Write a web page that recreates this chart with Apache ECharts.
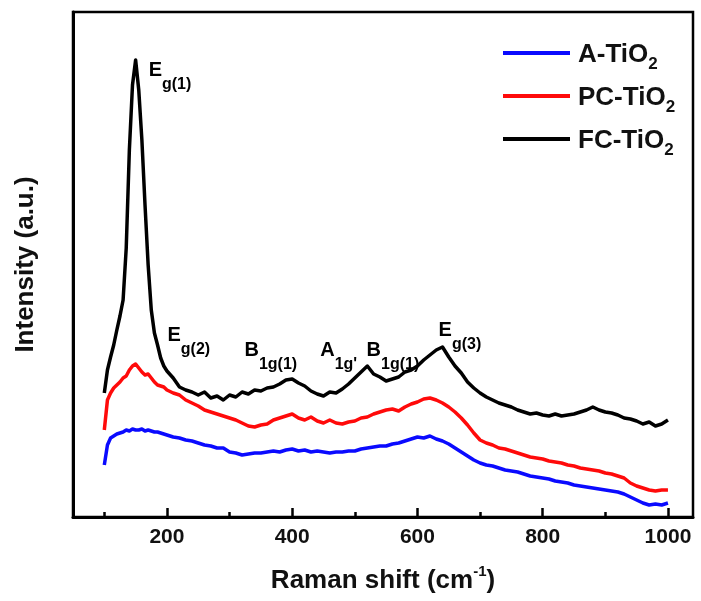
<!DOCTYPE html>
<html>
<head>
<meta charset="utf-8">
<script src="https://cdn.jsdelivr.net/npm/echarts@6/dist/echarts.min.js"></script>
<style>html,body{margin:0;padding:0;background:#fff}#c{width:701px;height:601px}</style>
</head>
<body>
<div id="c"></div>
<script>
// Raman shift (cm-1)
var shift = [100,105,110,115,120,125,130,135,140,145,150,155,160,165,170,175,180,185,190,195,200,
  210,220,230,240,250,260,270,280,290,300,
  310,320,330,340,350,360,370,380,390,400,
  410,420,430,440,450,460,470,480,490,500,
  510,520,530,540,550,560,570,580,590,600,
  610,620,630,640,650,660,670,680,690,700,
  710,720,730,740,750,760,770,780,790,800,
  810,820,830,840,850,860,870,880,890,900,
  910,920,930,940,950,960,970,980,990,1000];
// Intensity (a.u.)
var fcTiO2 = [124,147,160,172,187,201,217,269,367,432,457,427,377,312,252,207,184,172,159,151,146,
  139,130,127,125,122,125,119,121,117,122,
  120,125,123,127,126,129,130,133,137,138,
  134,131,126,123,121,125,124,128,133,139,
  145,151,143,140,136,138,140,145,147,151,
  157,162,167,170,160,151,144,135,129,124,
  120,117,114,112,110,107,105,103,104,102,
  101,103,101,102,103,105,107,110,107,105,
  104,102,99,98,96,93,95,91,93,97];
var pcTiO2 = [87,117,124,129,132,135,139,141,147,151,153,149,145,142,143,139,135,132,131,130,127,
  124,122,117,114,111,107,105,103,101,99,
  97,94,91,90,92,93,97,99,101,103,
  99,97,100,96,94,97,94,93,95,96,
  99,100,103,105,107,108,106,110,113,115,
  118,119,117,114,110,105,99,92,84,77,
  74,72,69,68,66,64,62,60,59,58,
  56,55,54,52,51,49,48,47,46,44,
  43,41,39,34,31,29,27,26,27,27];
var aTiO2 = [52,72,79,81,83,84,85,87,86,88,87,87,88,86,87,86,85,85,84,83,82,
  80,79,77,76,74,72,71,69,69,65,
  64,62,63,64,64,65,66,65,67,68,
  66,67,65,66,65,64,65,65,66,66,
  68,69,70,71,71,73,74,76,78,80,
  79,81,78,76,73,69,65,61,57,54,
  52,51,49,47,46,45,43,41,40,39,
  38,36,35,34,32,31,30,29,28,27,
  26,25,23,20,17,14,12,13,12,14];

var seriesNames = ['A-TiO2', 'PC-TiO2', 'FC-TiO2'];
var seriesColors = ['#0a0aff', '#ff0a0a', '#000000'];

var majorTicks = [200, 400, 600, 800, 1000];
var minorTicks = [100, 300, 500, 700, 900];
var labelTicks = [200, 400, 600, 800, 1000];

// Peak annotations
var peakMain = ['E', 'E', 'B', 'A', 'B', 'E'];
var peakSub = ['g(1)', 'g(2)', '1g(1)', "1g'", '1g(1)', 'g(3)'];
var peakX = [170, 200, 323, 444, 518, 633];
var peakY = [451, 186, 171, 171, 171, 191];

var FONT = '"Liberation Sans", Arial, sans-serif';

function zip(xs, ys) { return xs.map(function (x, i) { return [x, ys[i]]; }); }

var chart = echarts.init(document.getElementById('c'), null, { renderer: 'canvas' });

var lineSeries = [aTiO2, pcTiO2, fcTiO2].map(function (vals, i) {
  return {
    name: seriesNames[i], type: 'line', xAxisIndex: 0, yAxisIndex: 0,
    data: zip(shift, vals), showSymbol: false, symbol: 'none',
    lineStyle: { color: seriesColors[i], width: 3.5, join: 'round' },
    itemStyle: { color: seriesColors[i] },
    z: 3 + i, silent: true, animation: false
  };
});

var annotSeries = {
  name: 'peaks', type: 'scatter', xAxisIndex: 0, yAxisIndex: 0,
  data: peakX.map(function (x, i) { return [x, peakY[i]]; }),
  symbolSize: 1, itemStyle: { color: 'rgba(0,0,0,0)', opacity: 1 },
  silent: true, animation: false, z: 10,
  label: {
    show: true, position: 'right', distance: 0, offset: [0, 5], color: '#000', opacity: 1,
    textBorderWidth: 0,
    formatter: function (p) { return '{m|' + peakMain[p.dataIndex] + '}{s|' + peakSub[p.dataIndex] + '}'; },
    rich: {
      m: { fontFamily: FONT, fontWeight: 'bold', fontSize: 20, color: '#000', lineHeight: 22, verticalAlign: 'top', textBorderWidth: 0 },
      s: { fontFamily: FONT, fontWeight: 'bold', fontSize: 16, color: '#000', lineHeight: 16, padding: [17, 0, 0, 0], verticalAlign: 'top', textBorderWidth: 0 }
    }
  },
  emphasis: { disabled: true }
};

var option = {
  backgroundColor: '#fff',
  animation: false,
  grid: { left: 73, right: 8, top: 12, bottom: 84, show: true, borderColor: '#000', borderWidth: 2.5, backgroundColor: 'transparent' },
  legend: {
    data: seriesNames, orient: 'vertical', left: 498, top: 34, itemGap: 9,
    icon: 'rect', itemWidth: 67, itemHeight: 4,
    formatter: function (name) { return '{m|' + name.slice(0, -1) + '}{s|' + name.slice(-1) + '}'; },
    textStyle: {
      rich: {
        m: { fontFamily: FONT, fontWeight: 'bold', fontSize: 26, color: '#111', lineHeight: 28, padding: [3, 0, 0, 3], verticalAlign: 'top' },
        s: { fontFamily: FONT, fontWeight: 'bold', fontSize: 17, color: '#111', lineHeight: 18, padding: [17, 0, 0, 0], verticalAlign: 'top' }
      }
    },
    selectedMode: false
  },
  xAxis: [{
    type: 'value', min: 50, max: 1040, position: 'bottom',
    name: '{a|Raman shift (cm}{b|-1}{a|)}', nameLocation: 'middle', nameGap: 47,
    nameTextStyle: {
      rich: {
        a: { fontFamily: FONT, fontWeight: 'bold', fontSize: 26, color: '#111', lineHeight: 30, verticalAlign: 'bottom' },
        b: { fontFamily: FONT, fontWeight: 'bold', fontSize: 15, color: '#111', lineHeight: 16, verticalAlign: 'top' }
      }
    },
    axisLine: { show: true, onZero: false, lineStyle: { color: '#000', width: 3 } },
    axisTick: { show: true, inside: true, length: 9, lineStyle: { color: '#000', width: 2.5 }, customValues: majorTicks },
    axisLabel: { show: true, customValues: labelTicks, margin: 10, fontFamily: FONT, fontWeight: 'bold', fontSize: 21, color: '#111',
      formatter: function (v) { return String(v); } },
    splitLine: { show: false }
  }, {
    type: 'value', min: 50, max: 1040, position: 'bottom', gridIndex: 0,
    axisLine: { show: false },
    axisTick: { show: true, inside: true, length: 5, lineStyle: { color: '#000', width: 2.5 }, customValues: minorTicks },
    axisLabel: { show: false },
    splitLine: { show: false }
  }],
  yAxis: {
    type: 'value', min: 0, max: 505,
    name: 'Intensity (a.u.)', nameLocation: 'middle', nameGap: 34,
    nameTextStyle: { fontFamily: FONT, fontWeight: 'bold', fontSize: 26, color: '#111' },
    axisLine: { show: true, onZero: false, lineStyle: { color: '#000', width: 3 } },
    axisTick: { show: false }, axisLabel: { show: false }, splitLine: { show: false }
  },
  series: lineSeries.concat([annotSeries])
};
chart.setOption(option);
</script>
</body>
</html>
